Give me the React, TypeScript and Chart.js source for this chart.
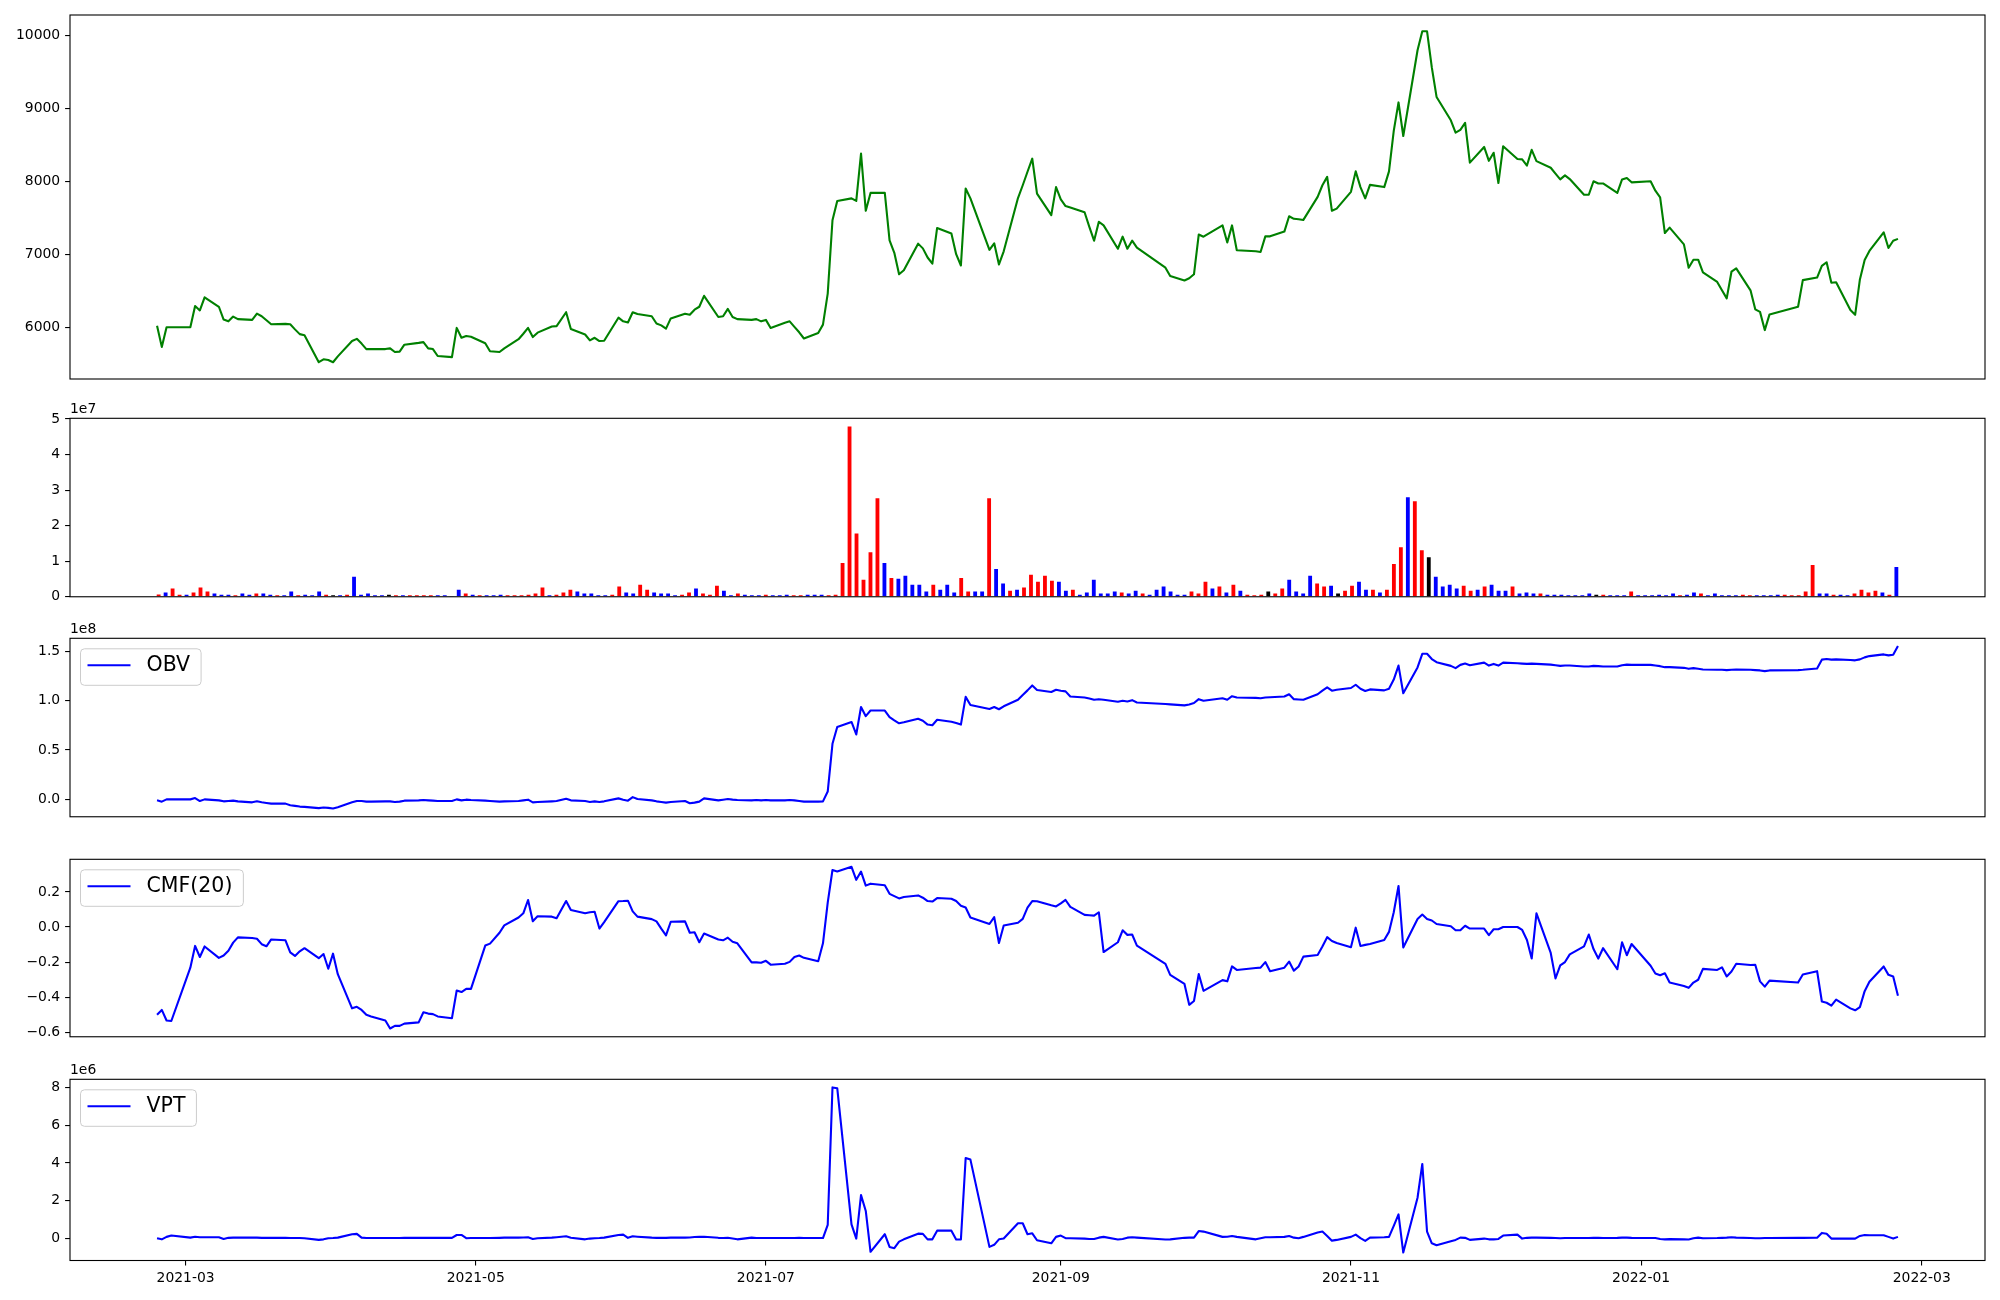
import React, { useEffect, useRef } from "react";
import { Chart, registerables } from "chart.js";

Chart.register(...registerables);

// ---------- calendar (Korean trading days) ----------
const FIRST_DAY = "2021-02-23";
const LAST_DAY = "2022-02-24";
const AXIS_ORIGIN = "2021-03-01";
const HOLIDAYS = [
  "2021-03-01", "2021-05-05", "2021-05-19", "2021-08-16", "2021-09-20", "2021-09-21",
  "2021-09-22", "2021-10-04", "2021-10-11", "2021-12-31", "2022-01-31", "2022-02-01", "2022-02-02",
];
const DATE_TICKS = ["2021-03-01", "2021-05-01", "2021-07-01", "2021-09-01", "2021-11-01", "2022-01-01", "2022-03-01"];

// ---------- data (one value per trading day, Feb 23 2021 .. Feb 24 2022) ----------
const PRICE = [
  6020, 5730, 6000, 6000,
  6000, 6290, 6230, 6410, 6280, 6105, 6080, 6145, 6110, 6100, 6185, 6150, 6095, 6040, 6045, 6040, 5970, 5905, 5890, 5520, 5560, 5550,
  5520, 5600, 5810, 5840, 5775, 5700, 5700, 5700, 5710, 5660, 5665, 5760, 5785, 5795, 5710, 5700, 5605, 5590, 5990, 5855, 5880, 5870,
  5780, 5670, 5660, 5710, 5835, 5910, 5990, 5865, 5925, 6010, 6015, 6205, 5975, 5900, 5820, 5855, 5810, 5815, 6130,
  6080, 6065, 6205, 6180, 6150, 6050, 6025, 5980, 6120, 6185, 6170, 6240, 6280, 6430, 6140, 6150, 6250, 6140, 6110, 6100, 6110, 6080,
  6100, 5990, 6060, 6080, 6005, 5930, 5845, 5920, 6035, 6460, 7465, 7730, 7765, 7730, 8380, 7595, 7840, 7840, 7190, 7020, 6725, 6780,
  7145, 7080, 6955, 6870, 7360, 7285, 7000, 6845, 7900, 7765, 7060, 7150, 6860, 7040, 7770, 7945, 8130, 8310, 7830, 7535, 7920,
  7750, 7660, 7640, 7575, 7375, 7185, 7445, 7395, 7075, 7240, 7075, 7185, 7090, 6815, 6700, 6640, 6670, 6725, 7270,
  7240, 7395, 7160, 7395, 7055, 7040, 7030, 7245, 7245, 7310, 7520, 7485, 7480, 7470, 7785, 7945, 8060, 7595, 7625,
  7855, 8135, 7920, 7765, 7950, 7920, 8135, 8690, 9080, 8620, 9795, 10055, 10055, 9560, 9155, 8835, 8665, 8705, 8800, 8255, 8470, 8280,
  8390, 7975, 8480, 8305, 8300, 8215, 8430, 8275, 8185, 8105, 8025, 8080, 8030, 7815, 7815, 8000, 7970, 7970, 7840, 8025, 8045, 7985,
  8000, 7870, 7780, 7290, 7365, 7135, 6815, 6925, 6925, 6750, 6620, 6505, 6395, 6760, 6805, 6505, 6245, 6210, 5960, 6175,
  6280, 6645, 6680, 6840, 6890, 6610, 6615, 6235, 6170, 6655, 6920, 7045, 7300, 7085, 7185, 7210,
];

// volume in units of 1e7
const VOLUME = [
  0.064, 0.12, 0.23, 0.06,
  0.06, 0.12, 0.26, 0.15, 0.09, 0.06, 0.06, 0.04, 0.09, 0.06, 0.09, 0.09, 0.06, 0.04, 0.04, 0.15, 0.04, 0.06, 0.04, 0.15, 0.06, 0.04,
  0.04, 0.06, 0.56, 0.06, 0.09, 0.04, 0.04, 0.06, 0.04, 0.04, 0.04, 0.04, 0.04, 0.04, 0.04, 0.04, 0.01, 0.20, 0.09, 0.06, 0.04, 0.04,
  0.04, 0.06, 0.04, 0.04, 0.04, 0.06, 0.09, 0.26, 0.04, 0.06, 0.12, 0.20, 0.15, 0.09, 0.09, 0.04, 0.04, 0.06, 0.29,
  0.12, 0.09, 0.34, 0.20, 0.12, 0.09, 0.09, 0.04, 0.06, 0.12, 0.23, 0.09, 0.06, 0.31, 0.17, 0.04, 0.09, 0.06, 0.04, 0.04, 0.06, 0.04,
  0.04, 0.06, 0.04, 0.04, 0.06, 0.06, 0.06, 0.04, 0.06, 0.95, 4.79, 1.78, 0.48, 1.25, 2.77, 0.95, 0.53, 0.51, 0.59, 0.34, 0.34, 0.15,
  0.34, 0.20, 0.34, 0.12, 0.53, 0.15, 0.15, 0.15, 2.77, 0.78, 0.37, 0.17, 0.20, 0.26, 0.62, 0.42, 0.59, 0.45, 0.42, 0.17, 0.20,
  0.06, 0.12, 0.48, 0.09, 0.09, 0.15, 0.12, 0.09, 0.17, 0.09, 0.06, 0.20, 0.29, 0.15, 0.06, 0.06, 0.15, 0.09, 0.42,
  0.23, 0.29, 0.12, 0.34, 0.17, 0.06, 0.04, 0.06, 0.15, 0.09, 0.23, 0.48, 0.15, 0.09, 0.59, 0.37, 0.29, 0.31, 0.09,
  0.17, 0.31, 0.42, 0.20, 0.20, 0.12, 0.20, 0.92, 1.39, 2.80, 2.69, 1.31, 1.11, 0.56, 0.29, 0.34, 0.23, 0.31, 0.17, 0.20, 0.29, 0.34,
  0.17, 0.17, 0.29, 0.09, 0.12, 0.09, 0.09, 0.06, 0.06, 0.06, 0.04, 0.04, 0.04, 0.09, 0.06, 0.06, 0.04, 0.04, 0.04, 0.15, 0.04, 0.04,
  0.04, 0.06, 0.04, 0.09, 0.04, 0.06, 0.12, 0.09, 0.04, 0.09, 0.04, 0.04, 0.04, 0.06, 0.04, 0.04, 0.04, 0.04, 0.06, 0.06,
  0.04, 0.04, 0.15, 0.89, 0.09, 0.09, 0.06, 0.06, 0.04, 0.09, 0.20, 0.12, 0.17, 0.12, 0.06, 0.84,
];

// bar colour per day: r = up, b = down, k = unchanged
const VOLUME_COLOR =
  "rbrr" +
  "brrrbbbrbbrbbrbbrbbbrk" +
  "brbbbbbkrbrrrrbbbbrbrb" +
  "bbrrrrrrbrrrbbbbbrr" +
  "bbrrbbbbrrbrrrbbrbbbrb" +
  "bbrrbbbrrrrrrrrbrbbbbb" +
  "rbbbrrbbrbbrbrrrrrbbr" +
  "bbbbbbrbbrbbbbbbrrr" +
  "brbrbrrrkrrbbbbrrbk" +
  "rrbbrbrrrbrrkbbbbrrbrb" +
  "bbrbbbrbbbbbbbkrbbbrbb" +
  "bbbbrbbrbbbbbrrbbbbr" +
  "rrrrbbrbbrrrrbrb";

// OBV in units of 1e8
const OBV = [
  -0.010, -0.023, 0.000, 0.000,
  0.000, 0.013, -0.017, 0.000, -0.010, -0.020, -0.017, -0.013, -0.020, -0.030, -0.020, -0.030, -0.036, -0.043, -0.043, -0.060, -0.066, -0.073, -0.076, -0.089, -0.083, -0.086,
  -0.092, -0.079, -0.030, -0.017, -0.017, -0.023, -0.023, -0.020, -0.020, -0.026, -0.023, -0.013, -0.010, -0.007, -0.010, -0.013, -0.017, -0.017, 0.000, -0.010, -0.003, -0.007,
  -0.013, -0.017, -0.023, -0.020, -0.017, -0.010, -0.003, -0.030, -0.026, -0.020, -0.017, 0.007, -0.010, -0.017, -0.026, -0.020, -0.026, -0.020, 0.010,
  -0.003, -0.013, 0.023, 0.003, -0.010, -0.020, -0.026, -0.033, -0.026, -0.017, -0.040, -0.033, -0.023, 0.010, -0.010, -0.003, 0.003, -0.003, -0.007, -0.010, -0.007, -0.010,
  -0.007, -0.010, -0.010, -0.007, -0.010, -0.017, -0.023, -0.023, -0.020, 0.079, 0.562, 0.733, 0.783, 0.657, 0.935, 0.842, 0.899, 0.899, 0.832, 0.800, 0.770, 0.780,
  0.816, 0.796, 0.757, 0.750, 0.806, 0.786, 0.773, 0.757, 1.037, 0.955, 0.915, 0.935, 0.912, 0.942, 1.008, 1.057, 1.103, 1.153, 1.107, 1.087, 1.110,
  1.100, 1.093, 1.041, 1.031, 1.021, 1.008, 1.014, 1.008, 0.988, 0.998, 0.991, 1.004, 0.981, 0.965, 0.961, 0.951, 0.961, 0.975, 1.014,
  0.998, 1.024, 1.008, 1.044, 1.031, 1.027, 1.024, 1.031, 1.034, 1.041, 1.064, 1.014, 1.011, 1.008, 1.064, 1.100, 1.133, 1.100, 1.110,
  1.127, 1.160, 1.120, 1.097, 1.113, 1.103, 1.120, 1.212, 1.354, 1.074, 1.335, 1.473, 1.473, 1.420, 1.388, 1.351, 1.328, 1.361, 1.374, 1.358, 1.384, 1.354,
  1.371, 1.354, 1.384, 1.378, 1.374, 1.371, 1.374, 1.371, 1.364, 1.358, 1.351, 1.354, 1.354, 1.345, 1.345, 1.351, 1.348, 1.345, 1.345, 1.358, 1.364, 1.361,
  1.361, 1.354, 1.348, 1.338, 1.338, 1.331, 1.321, 1.328, 1.321, 1.315, 1.311, 1.311, 1.308, 1.311, 1.315, 1.311, 1.308, 1.305, 1.298, 1.305,
  1.308, 1.311, 1.325, 1.414, 1.421, 1.414, 1.417, 1.411, 1.407, 1.417, 1.437, 1.450, 1.467, 1.457, 1.464, 1.553,
];

const CMF = [
  -0.501, -0.473, -0.533, -0.536,
  -0.232, -0.108, -0.171, -0.111, -0.176, -0.163, -0.135, -0.089, -0.059, -0.063, -0.067, -0.098, -0.110, -0.071, -0.076, -0.145, -0.165, -0.139, -0.121, -0.178, -0.154, -0.238,
  -0.152, -0.269, -0.464, -0.455, -0.473, -0.501, -0.510, -0.533, -0.579, -0.564, -0.564, -0.551, -0.544, -0.486, -0.494, -0.497, -0.510, -0.520, -0.362, -0.371, -0.353, -0.353,
  -0.106, -0.095, -0.033, 0.009, 0.054, 0.078, 0.154, 0.033, 0.061, 0.059, 0.050, 0.148, 0.097, 0.078, 0.084, 0.087, -0.009, 0.028, 0.147,
  0.148, 0.150, 0.089, 0.059, 0.045, 0.032, -0.009, -0.048, 0.030, 0.032, -0.033, -0.030, -0.087, -0.037, -0.071, -0.076, -0.061, -0.084, -0.093, -0.202, -0.202, -0.204,
  -0.193, -0.215, -0.210, -0.199, -0.171, -0.163, -0.176, -0.195, -0.093, 0.139, 0.325, 0.317, 0.343, 0.269, 0.316, 0.236, 0.247, 0.238, 0.189, 0.176, 0.163, 0.171,
  0.180, 0.167, 0.148, 0.145, 0.165, 0.161, 0.148, 0.121, 0.111, 0.054, 0.017, 0.056, -0.091, 0.009, 0.024, 0.046, 0.110, 0.148, 0.147, 0.124, 0.117,
  0.135, 0.154, 0.115, 0.069, 0.067, 0.065, 0.084, -0.143, -0.087, -0.019, -0.045, -0.043, -0.106, -0.210, -0.273, -0.325, -0.444, -0.422, -0.269,
  -0.364, -0.303, -0.310, -0.225, -0.245, -0.234, -0.232, -0.200, -0.252, -0.232, -0.197, -0.249, -0.225, -0.169, -0.160, -0.111, -0.058, -0.080, -0.091,
  -0.115, -0.004, -0.108, -0.102, -0.097, -0.074, -0.028, 0.084, 0.234, -0.117, 0.046, 0.071, 0.046, 0.037, 0.017, 0.004, -0.019, -0.019, 0.007, -0.009, -0.009, -0.046,
  -0.013, -0.013, 0.000, 0.000, -0.017, -0.074, -0.180, 0.078, -0.148, -0.293, -0.219, -0.200, -0.156, -0.111, -0.043, -0.126, -0.180, -0.121, -0.241, -0.087, -0.161, -0.097,
  -0.221, -0.265, -0.275, -0.264, -0.317, -0.336, -0.347, -0.317, -0.301, -0.239, -0.245, -0.230, -0.282, -0.254, -0.210, -0.217, -0.215, -0.310, -0.340, -0.306,
  -0.317, -0.271, -0.252, -0.425, -0.432, -0.449, -0.414, -0.464, -0.475, -0.457, -0.366, -0.312, -0.225, -0.273, -0.282, -0.392,
];

// VPT in units of 1e6
const VPT = [
  0.02, -0.04, 0.09, 0.16,
  0.05, 0.10, 0.07, 0.07, 0.07, -0.02, 0.04, 0.05, 0.05, 0.05, 0.05, 0.04, 0.04, 0.04, 0.04, 0.03, 0.03, 0.03, 0.02, -0.07, -0.04, 0.02,
  0.03, 0.05, 0.23, 0.25, 0.05, 0.03, 0.03, 0.03, 0.03, 0.03, 0.03, 0.04, 0.04, 0.04, 0.04, 0.04, 0.04, 0.04, 0.19, 0.19, 0.02, 0.03,
  0.03, 0.03, 0.04, 0.05, 0.05, 0.06, 0.07, -0.02, 0.02, 0.05, 0.07, 0.12, 0.04, -0.04, 0.00, 0.02, 0.03, 0.05, 0.19,
  0.21, 0.04, 0.12, 0.10, 0.05, 0.04, 0.04, 0.04, 0.05, 0.05, 0.06, 0.08, 0.09, 0.10, 0.04, 0.03, 0.04, 0.00, -0.04, 0.05, 0.03, 0.03,
  0.03, 0.03, 0.03, 0.03, 0.03, 0.04, 0.03, 0.03, 0.03, 0.72, 8.00, 7.96, 0.75, 0.00, 2.30, 1.46, -0.70, 0.23, -0.44, -0.51, -0.16, -0.04,
  0.26, 0.25, -0.04, -0.04, 0.42, 0.42, -0.05, -0.05, 4.26, 4.18, -0.44, -0.33, -0.04, 0.00, 0.81, 0.81, 0.23, 0.28, -0.09, -0.25, 0.09,
  0.16, 0.02, 0.02, 0.00, -0.02, -0.02, 0.05, 0.09, -0.05, -0.02, 0.05, 0.07, 0.05, -0.05, -0.04, 0.04, 0.05, 0.05, 0.40,
  0.37, 0.09, 0.10, 0.14, 0.09, -0.04, 0.02, 0.07, 0.07, 0.09, 0.14, 0.05, 0.02, 0.09, 0.32, 0.37, 0.14, -0.11, -0.07,
  0.09, 0.21, 0.02, -0.12, 0.05, 0.07, 0.09, 0.67, 1.28, -0.74, 2.16, 3.95, 0.37, -0.25, -0.35, -0.14, -0.07, 0.05, 0.04, -0.07, 0.00, -0.04,
  -0.04, -0.02, 0.16, 0.21, 0.00, 0.04, 0.05, 0.05, 0.04, 0.03, 0.02, 0.03, 0.03, 0.03, 0.03, 0.04, 0.04, 0.03, 0.04, 0.05, 0.05, 0.04,
  0.03, 0.03, -0.02, -0.04, -0.03, -0.04, -0.05, 0.02, 0.05, 0.02, 0.03, 0.04, 0.05, 0.07, 0.05, 0.03, 0.02, 0.02, 0.03, 0.03,
  0.04, 0.04, 0.05, 0.30, 0.26, 0.00, 0.00, 0.00, 0.00, 0.14, 0.19, 0.18, 0.18, 0.09, 0.00, 0.09,
];

const PRICE_TICKS = [6000, 7000, 8000, 9000, 10000];
const VOLUME_TICKS = [0, 1, 2, 3, 4, 5];
const OBV_TICKS = [0, 0.5, 1.0, 1.5];
const CMF_TICKS = [-0.6, -0.4, -0.2, 0.0, 0.2];
const VPT_TICKS = [0, 2, 4, 6, 8];

// ---------- helpers ----------
const DAY_MS = 86400000;
function toUTC(s: string): number {
  const [y, m, d] = s.split("-").map(Number);
  return Date.UTC(y, m - 1, d);
}
function dayNumber(s: string): number {
  return Math.round((toUTC(s) - toUTC(AXIS_ORIGIN)) / DAY_MS);
}
function tradingDays(): string[] {
  const out: string[] = [];
  for (let t = toUTC(FIRST_DAY); t <= toUTC(LAST_DAY); t += DAY_MS) {
    const dt = new Date(t);
    const wd = dt.getUTCDay();
    const s = dt.toISOString().slice(0, 10);
    if (wd !== 0 && wd !== 6 && !HOLIDAYS.includes(s)) out.push(s);
  }
  return out;
}

const FONT = "'DejaVu Sans', 'Liberation Sans', sans-serif";
const TICK_FONT = { family: FONT, size: 13.9 };
const COLOR_MAP: Record<string, string> = { r: "#ff0000", b: "#0000ff", k: "#000000" };

const decorPlugin = {
  id: "decor",
  afterDraw(chart: any, _args: any, opts: any) {
    const { ctx, chartArea: a } = chart;
    ctx.save();
    ctx.strokeStyle = "#000";
    ctx.lineWidth = 1.1;
    ctx.strokeRect(a.left, a.top, a.right - a.left, a.bottom - a.top);
    if (opts && opts.offsetText) {
      ctx.font = `13.9px ${FONT}`;
      ctx.fillStyle = "#000";
      ctx.textAlign = "left";
      ctx.textBaseline = "alphabetic";
      ctx.fillText(opts.offsetText, a.left, a.top - 5);
    }
    if (opts && opts.legend) {
      ctx.font = `20.5px ${FONT}`;
      const tw = ctx.measureText(opts.legend).width;
      const x0 = a.left + 10.5;
      const y0 = a.top + 10.5;
      const w = 66 + tw + 11;
      const h = 36.5;
      const r = 4;
      ctx.beginPath();
      ctx.moveTo(x0 + r, y0);
      ctx.lineTo(x0 + w - r, y0);
      ctx.quadraticCurveTo(x0 + w, y0, x0 + w, y0 + r);
      ctx.lineTo(x0 + w, y0 + h - r);
      ctx.quadraticCurveTo(x0 + w, y0 + h, x0 + w - r, y0 + h);
      ctx.lineTo(x0 + r, y0 + h);
      ctx.quadraticCurveTo(x0, y0 + h, x0, y0 + h - r);
      ctx.lineTo(x0, y0 + r);
      ctx.quadraticCurveTo(x0, y0, x0 + r, y0);
      ctx.closePath();
      ctx.fillStyle = "rgba(255,255,255,0.8)";
      ctx.fill();
      ctx.strokeStyle = "#cccccc";
      ctx.lineWidth = 1;
      ctx.stroke();
      ctx.beginPath();
      ctx.strokeStyle = opts.legendColor;
      ctx.lineWidth = 2.1;
      ctx.moveTo(x0 + 7, y0 + 16.5);
      ctx.lineTo(x0 + 50, y0 + 16.5);
      ctx.stroke();
      ctx.fillStyle = "#000";
      ctx.textAlign = "left";
      ctx.textBaseline = "middle";
      ctx.fillText(opts.legend, x0 + 66, y0 + 16.5);
    }
    ctx.restore();
  },
};

function yScale(min: number, max: number, ticks: number[], fmt: (v: number) => string) {
  return {
    position: "left",
    min,
    max,
    afterFit: (s: any) => {
      s.width = 70;
    },
    afterBuildTicks: (s: any) => {
      s.ticks = ticks.map((v) => ({ value: v }));
    },
    ticks: {
      color: "#000",
      font: TICK_FONT,
      padding: 4.9,
      autoSkip: false,
      callback: (v: any) => fmt(Number(v)),
    },
    grid: { display: true, drawOnChartArea: false, drawTicks: true, tickLength: 4.9, color: "#000", lineWidth: 1.1 },
    border: { display: false },
  };
}

const X_MIN = -24.3;
const X_MAX = 378.3;
const BAR_X_MIN = -12.7;
const BAR_X_MAX = 261.7;

const fmtMinus = (v: number, digits: number) => (v < 0 ? "\u2212" : "") + Math.abs(v).toFixed(digits);

type Panel = { top: number; height: number; padTop: number; padBottom: number };
const PANELS: Panel[] = [
  { top: 0, height: 395, padTop: 15, padBottom: 16 },
  { top: 395, height: 215, padTop: 23.3, padBottom: 10.7 },
  { top: 610, height: 220, padTop: 28.3, padBottom: 9.7 },
  { top: 830, height: 220, padTop: 29.3, padBottom: 9 },
  { top: 1050, height: 250, padTop: 29.3, padBottom: 9.5 },
];

function buildConfigs(): any[] {
  const days = tradingDays();
  const xs = days.map(dayNumber);
  const pts = (arr: number[]) => xs.map((x, i) => ({ x, y: arr[i] }));
  const lineDs = (label: string, arr: number[], color: string) => ({
    label,
    data: pts(arr),
    borderColor: color,
    backgroundColor: color,
    borderWidth: 2.1,
    pointRadius: 0,
    tension: 0,
    borderJoinStyle: "round",
    fill: false,
  });
  const common = (k: number, decor: any) => ({
    responsive: false,
    animation: false,
    events: [],
    layout: { padding: { left: 0, right: 15, top: PANELS[k].padTop, bottom: PANELS[k].padBottom } },
    plugins: { legend: { display: false }, tooltip: { enabled: false }, decor },
  });
  const hiddenX = { type: "linear", min: X_MIN, max: X_MAX, display: false };

  const price = {
    type: "line",
    data: { datasets: [lineDs("Close", PRICE, "#008000")] },
    options: {
      ...common(0, {}),
      scales: { x: hiddenX, y: yScale(5290, 10278, PRICE_TICKS, (v) => String(v)) },
    },
    plugins: [decorPlugin],
  };

  const volume = {
    type: "bar",
    data: {
      datasets: [
        {
          label: "Volume",
          data: VOLUME.map((v, i) => ({ x: i, y: v })),
          backgroundColor: VOLUME.map((_, i) => COLOR_MAP[VOLUME_COLOR[i]] || "#0000ff"),
          borderWidth: 0,
          barPercentage: 0.55,
          categoryPercentage: 1,
        },
      ],
    },
    options: {
      ...common(1, { offsetText: "1e7" }),
      scales: {
        x: { type: "linear", min: BAR_X_MIN, max: BAR_X_MAX, display: false, offset: false, grid: { offset: false } },
        y: yScale(0, 5.02, VOLUME_TICKS, (v) => String(v)),
      },
    },
    plugins: [decorPlugin],
  };

  const obv = {
    type: "line",
    data: { datasets: [lineDs("OBV", OBV, "#0000ff")] },
    options: {
      ...common(2, { offsetText: "1e8", legend: "OBV", legendColor: "#0000ff" }),
      scales: { x: hiddenX, y: yScale(-0.176, 1.63, OBV_TICKS, (v) => v.toFixed(1)) },
    },
    plugins: [decorPlugin],
  };

  const cmf = {
    type: "line",
    data: { datasets: [lineDs("CMF(20)", CMF, "#0000ff")] },
    options: {
      ...common(3, { legend: "CMF(20)", legendColor: "#0000ff" }),
      scales: { x: hiddenX, y: yScale(-0.626, 0.386, CMF_TICKS, (v) => fmtMinus(v, 1)) },
    },
    plugins: [decorPlugin],
  };

  const vpt = {
    type: "line",
    data: { datasets: [lineDs("VPT", VPT, "#0000ff")] },
    options: {
      ...common(4, { offsetText: "1e6", legend: "VPT", legendColor: "#0000ff" }),
      scales: {
        x: {
          type: "linear",
          min: X_MIN,
          max: X_MAX,
          afterFit: (s: any) => {
            s.height = 30;
          },
          afterBuildTicks: (s: any) => {
            s.ticks = DATE_TICKS.map((d) => ({ value: dayNumber(d) }));
          },
          ticks: {
            color: "#000",
            font: TICK_FONT,
            padding: 4.9,
            autoSkip: false,
            maxRotation: 0,
            minRotation: 0,
            callback: (_v: any, i: number) => DATE_TICKS[i].slice(0, 7),
          },
          grid: { display: true, drawOnChartArea: false, drawTicks: true, tickLength: 4.9, color: "#000", lineWidth: 1.1 },
          border: { display: false },
        },
        y: yScale(-1.16, 8.43, VPT_TICKS, (v) => String(v)),
      },
    },
    plugins: [decorPlugin],
  };

  return [price, volume, obv, cmf, vpt];
}

export default function App() {
  const canvases = useRef<(HTMLCanvasElement | null)[]>([]);

  useEffect(() => {
    const configs = buildConfigs();
    const charts: Chart[] = [];
    configs.forEach((cfg, k) => {
      const el = canvases.current[k];
      if (el) charts.push(new Chart(el, cfg as any));
    });
    return () => charts.forEach((c) => c.destroy());
  }, []);

  return (
    <div style={{ position: "fixed", left: 0, top: 0, width: 2000, height: 1300, background: "#ffffff" }}>
      {PANELS.map((p, k) => (
        <canvas
          key={k}
          ref={(el) => {
            canvases.current[k] = el;
          }}
          width={2000}
          height={p.height}
          style={{ position: "absolute", left: 0, top: p.top, width: 2000, height: p.height }}
        />
      ))}
    </div>
  );
}
